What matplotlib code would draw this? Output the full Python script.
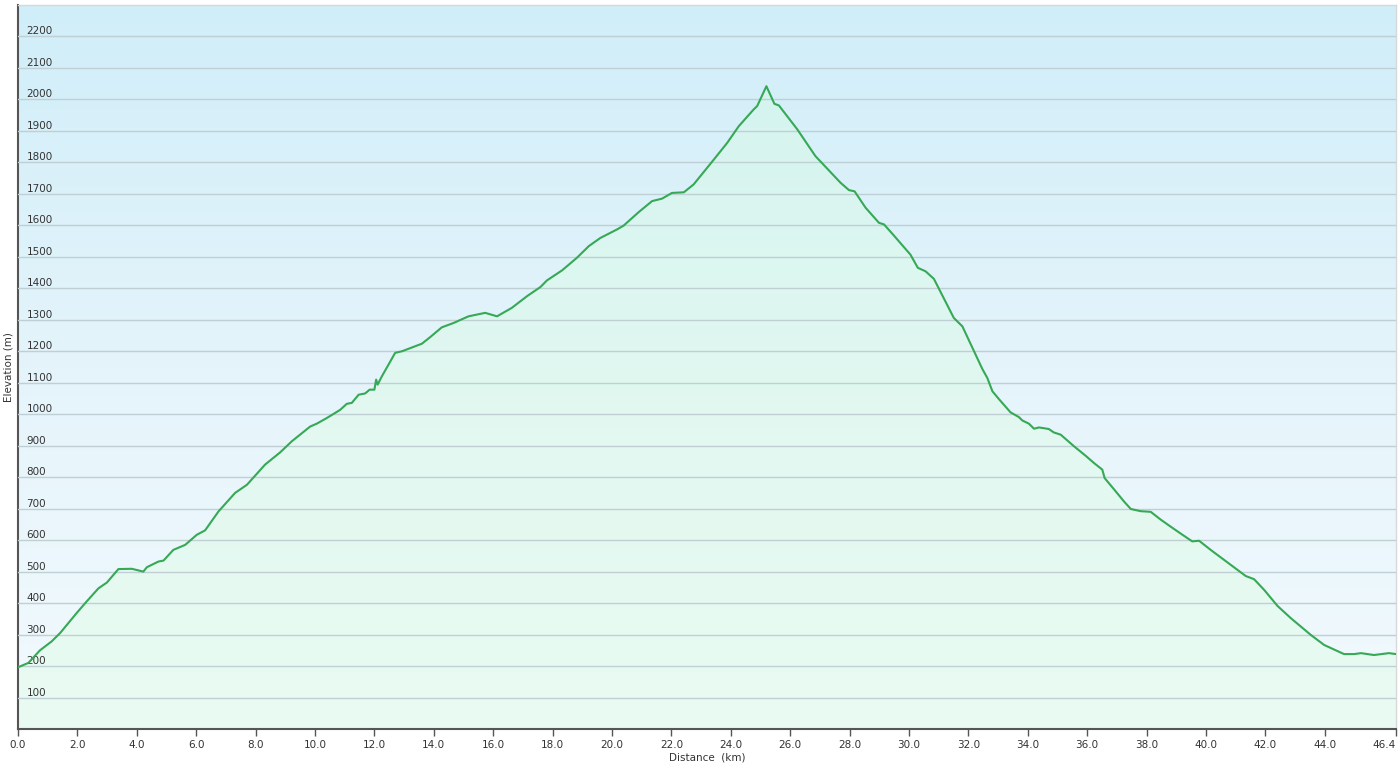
import numpy as np
import matplotlib.pyplot as plt
from matplotlib.colors import LinearSegmentedColormap

plt.rcParams['font.family'] = ['DejaVu Sans']

# elevation profile
distance_km = [0.0, 0.35, 0.74, 1.13, 1.42, 1.98, 2.31, 2.71, 2.99, 3.38, 3.83, 4.22, 4.34,
               4.73, 4.90, 5.23, 5.63, 6.02, 6.30, 6.75, 7.31, 7.71, 8.32, 8.83, 9.22, 9.56,
               9.84, 10.06, 10.40, 10.85, 11.07, 11.24, 11.47, 11.69, 11.84, 12.00, 12.06,
               12.11, 12.25, 12.70, 12.93, 13.32, 13.60, 13.88, 14.27, 14.67, 15.17, 15.73,
               16.13, 16.63, 17.14, 17.59, 17.81, 18.32, 18.82, 19.22, 19.61, 20.17, 20.39,
               20.90, 21.35, 21.69, 22.02, 22.42, 22.75, 23.43, 23.88, 24.27, 24.77, 24.89,
               25.20, 25.47, 25.62, 26.24, 26.85, 27.70, 27.98, 28.17, 28.54, 28.99, 29.16,
               29.49, 30.05, 30.30, 30.56, 30.84, 31.51, 31.80, 32.19, 32.47, 32.64, 32.81,
               33.03, 33.42, 33.70, 33.82, 34.04, 34.21, 34.38, 34.71, 34.88, 35.11, 35.56,
               35.95, 36.23, 36.51, 36.59, 36.90, 37.24, 37.47, 37.80, 38.14, 38.48, 38.81,
               39.21, 39.54, 39.77, 40.16, 40.84, 41.34, 41.62, 41.96, 42.41, 42.86, 43.53,
               43.98, 44.65, 44.99, 45.22, 45.66, 46.16, 46.40]
elevation_m = [196, 210, 250, 278, 305, 369, 405, 447, 465, 508, 509, 500, 514,
               532, 535, 569, 585, 617, 631, 691, 750, 776, 840, 879, 914, 940,
               961, 970, 988, 1014, 1033, 1036, 1062, 1066, 1078, 1078, 1110,
               1094, 1120, 1195, 1200, 1214, 1224, 1245, 1276, 1290, 1311, 1322,
               1311, 1338, 1375, 1404, 1425, 1457, 1497, 1534, 1560, 1587, 1599,
               1642, 1677, 1685, 1703, 1705, 1730, 1809, 1862, 1915, 1968, 1979,
               2042, 1986, 1981, 1905, 1820, 1735, 1712, 1708, 1656, 1608, 1603,
               1568, 1507, 1465, 1454, 1430, 1306, 1279, 1200, 1144, 1115, 1073,
               1048, 1006, 991, 980, 970, 954, 958, 953, 942, 935, 898,
               868, 845, 824, 797, 762, 723, 699, 692, 690, 665, 643,
               617, 596, 598, 569, 521, 486, 476, 442, 391, 352, 299,
               267, 238, 238, 241, 235, 241, 238]

y_ticks = list(range(100, 2300, 100))
x_ticks = [0.0, 2.0, 4.0, 6.0, 8.0, 10.0, 12.0, 14.0, 16.0, 18.0, 20.0, 22.0,
           24.0, 26.0, 28.0, 30.0, 32.0, 34.0, 36.0, 38.0, 40.0, 42.0, 44.0, 46.4]

x_max = 46.4
y_max = 2300

fig = plt.figure(figsize=(14, 7.7), dpi=100)
ax = fig.add_axes([18/1400, 1 - 729/770, (1396-18)/1400, (729-5)/770])

# sky gradient behind the plot
sky = LinearSegmentedColormap.from_list('sky', ['#f2fafd', '#e5f4fb', '#d0eef9'])
grad = np.linspace(0, 1, 256).reshape(-1, 1)
ax.imshow(grad, cmap=sky, origin='lower', aspect='auto',
          extent=[0, x_max, 0, y_max], zorder=0)

ax.fill_between(distance_km, elevation_m, 0, color='#d8ffdc', alpha=0.33,
                linewidth=0, zorder=1)
ax.plot(distance_km, elevation_m, color='#35a955', linewidth=1.5, zorder=3)

ax.set_xlim(0, x_max)
ax.set_ylim(0, y_max)

ax.set_yticks(y_ticks)
ax.set_yticklabels([str(v) for v in y_ticks])
ax.grid(axis='y', color='#bfcfd3', linewidth=1.0, zorder=2)
ax.set_axisbelow(False)
ax.tick_params(axis='y', length=0, pad=-6, labelsize=7.5, labelcolor='#333333')
for lab in ax.get_yticklabels():
    lab.set_horizontalalignment('left')
    lab.set_verticalalignment('bottom')

ax.set_xticks(x_ticks)
ax.set_xticklabels(['%.1f' % v for v in x_ticks])
ax.tick_params(axis='x', length=5, width=1, color='#555555', labelsize=7.5,
               labelcolor='#333333', pad=3)
ax.get_xticklabels()[-1].set_horizontalalignment('right')

for side in ['left', 'bottom']:
    ax.spines[side].set_color('#555555')
    ax.spines[side].set_linewidth(1.5)
for side in ['top', 'right']:
    ax.spines[side].set_color('#d8d8d8')
    ax.spines[side].set_linewidth(1)

ax.set_xlabel('Distance  (km)', fontsize=7.5, color='#333333', labelpad=2)
ax.set_ylabel('Elevation (m)', fontsize=7.5, color='#333333', labelpad=3)

fig.savefig('out.png', dpi=100)
